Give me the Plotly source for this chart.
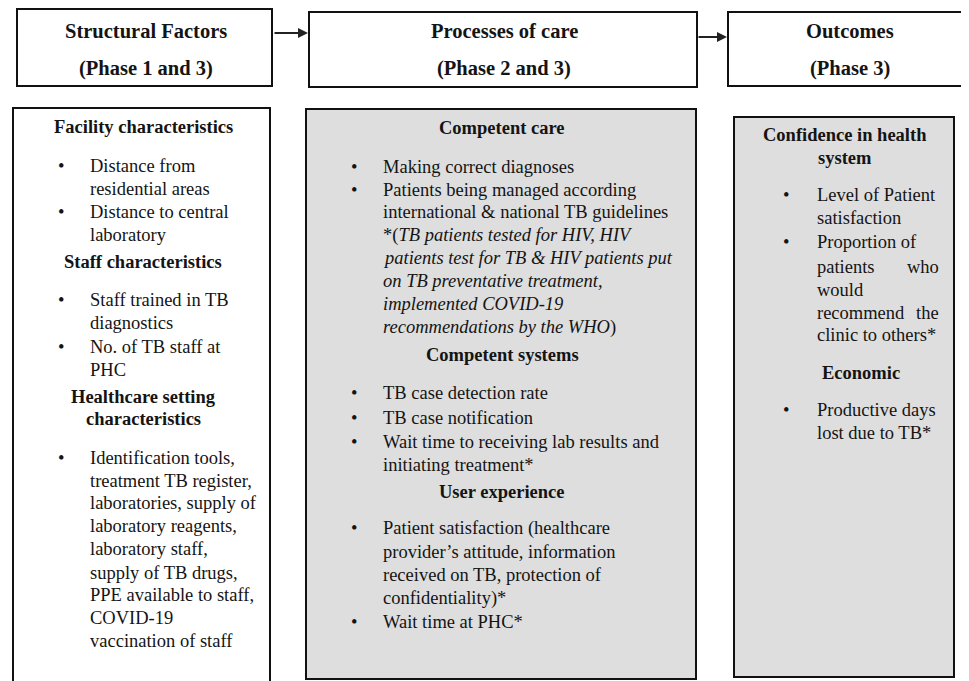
import plotly.graph_objects as go

# ---------------- content ----------------
stage_titles = ["Structural Factors", "Processes of care", "Outcomes"]
stage_phases = ["(Phase 1 and 3)", "(Phase 2 and 3)", "(Phase 3)"]

structural_kinds = ["head", "bullet", "cont", "bullet", "cont",
                    "head", "bullet", "cont", "bullet", "cont",
                    "head", "head", "bullet", "cont", "cont", "cont", "cont", "cont", "cont", "cont", "cont"]
structural_texts = ["Facility characteristics", "Distance from", "residential areas", "Distance to central", "laboratory",
                    "Staff characteristics", "Staff trained in TB", "diagnostics", "No. of TB staff at", "PHC",
                    "Healthcare setting", "characteristics", "Identification tools,", "treatment TB register,",
                    "laboratories, supply of", "laboratory reagents,", "laboratory staff,", "supply of TB drugs,",
                    "PPE available to staff,", "COVID-19", "vaccination of staff"]

process_kinds = ["head", "bullet", "bullet", "cont", "cont", "cont", "cont", "cont", "cont",
                 "head", "bullet", "bullet", "bullet", "cont",
                 "head", "bullet", "cont", "cont", "cont", "bullet"]
process_texts = ["Competent care", "Making correct diagnoses", "Patients being managed according",
                 "international &amp; national TB guidelines",
                 "*(<i>TB patients tested for HIV, HIV</i>",
                 "<i>patients test for TB &amp; HIV patients put</i>",
                 "<i>on TB preventative treatment,</i>",
                 "<i>implemented COVID-19</i>",
                 "<i>recommendations by the WHO</i>)",
                 "Competent systems", "TB case detection rate", "TB case notification",
                 "Wait time to receiving lab results and", "initiating treatment*",
                 "User experience", "Patient satisfaction (healthcare", "provider’s attitude, information",
                 "received on TB, protection of", "confidentiality)*", "Wait time at PHC*"]

outcome_kinds = ["head", "head", "bullet", "cont", "bullet", "just", "cont", "just", "cont",
                 "head", "bullet", "cont"]
outcome_texts = ["Confidence in health", "system", "Level of Patient", "satisfaction", "Proportion of",
                 "patients who", "would", "recommend the", "clinic to others*",
                 "Economic", "Productive days", "lost due to TB*"]

# ---------------- layout geometry (page pixels) ----------------
W, H = 969, 681
PAD = 8  # default page body margin: figure starts 8px into the page
top_boxes = [(17, 9, 272, 86), (309, 12, 697, 87), (728, 12, 966, 86)]
title_y, phase_y = 31, 68
title_cx = [146, 504, 850]
arrows = [(273, 308, 33), (697, 727, 37)]

body_boxes = [(13, 108, 270, 690), (306, 109, 696, 679), (734, 117, 954, 677)]
body_fill = ["white", "#dedede", "#dedede"]

structural_y = [127, 166, 189, 212, 235, 262, 300, 323, 347, 370, 397, 419,
                458, 481, 503, 526, 549, 573, 595, 618, 641]
process_y = [128, 167, 190, 212, 235, 258, 281, 304, 327, 355, 393, 418, 442, 465,
             492, 528, 552, 575, 598, 622]
outcome_y = [135, 158, 195, 218, 242, 267, 290, 313, 335, 373, 410, 433]

col_geom = [  # bullet x, text x, right x, header centre x
    dict(bx=61, tx=88, rx=262, cx=143),
    dict(bx=354, tx=381, rx=690, cx=502),
    dict(bx=786, tx=815, rx=941, cx=845),
]
head_cx_override = {(2, "Economic"): 861}

FONT = "Liberation Serif, Times New Roman, serif"
BODY = 18.5
HEAD = 18.5
TITLE = 20.5
INK = "#141414"

fig = go.Figure()
fig.add_trace(go.Scatter(x=[PAD, W], y=[PAD, H], mode="markers", marker=dict(opacity=0),
                         hoverinfo="skip", showlegend=False))

shapes = []
ann = []

for (x0, y0, x1, y1), t, p, cx in zip(top_boxes, stage_titles, stage_phases, title_cx):
    shapes.append(dict(type="rect", x0=x0, y0=y0, x1=x1, y1=y1, xref="x", yref="y",
                       line=dict(color="#111", width=2), fillcolor="white", layer="below"))
    ann.append(dict(x=cx, y=title_y, text=f"<b>{t}</b>", showarrow=False, xanchor="center", yanchor="middle",
                    font=dict(family=FONT, size=TITLE, color=INK)))
    ann.append(dict(x=cx, y=phase_y, text=f"<b>{p}</b>", showarrow=False, xanchor="center", yanchor="middle",
                    font=dict(family=FONT, size=TITLE, color=INK)))

for x0, x1, y in arrows:
    ann.append(dict(x=x1, y=y, ax=x0, ay=y, xref="x", yref="y", axref="x", ayref="y",
                    text="", showarrow=True, arrowhead=2, arrowsize=1, arrowwidth=2, arrowcolor="#222"))

for (x0, y0, x1, y1), fc in zip(body_boxes, body_fill):
    shapes.append(dict(type="rect", x0=x0, y0=y0, x1=x1, y1=y1, xref="x", yref="y",
                       line=dict(color="#111", width=2), fillcolor=fc, layer="below"))

columns = [(structural_kinds, structural_texts, structural_y),
           (process_kinds, process_texts, process_y),
           (outcome_kinds, outcome_texts, outcome_y)]

for ci, (kinds, texts, ys) in enumerate(columns):
    g = col_geom[ci]
    for k, t, y in zip(kinds, texts, ys):
        f = dict(family=FONT, size=BODY, color=INK)
        if k == "head":
            cx = head_cx_override.get((ci, t), g["cx"])
            ann.append(dict(x=cx, y=y, text=f"<b>{t}</b>", showarrow=False, xanchor="center",
                            yanchor="middle", font=dict(family=FONT, size=HEAD, color=INK)))
            continue
        if k == "bullet":
            ann.append(dict(x=g["bx"], y=y, text="•", showarrow=False, xanchor="center",
                            yanchor="middle", font=f))
        if k == "just":
            words = t.split(" ")
            ann.append(dict(x=g["tx"], y=y, text=words[0], showarrow=False, xanchor="left",
                            yanchor="middle", font=f))
            ann.append(dict(x=g["rx"], y=y, text=words[-1], showarrow=False, xanchor="right",
                            yanchor="middle", font=f))
        else:
            ann.append(dict(x=g["tx"], y=y, text=t, showarrow=False, xanchor="left",
                            yanchor="middle", font=f))

fig.update_layout(
    width=W - PAD, height=H - PAD, margin=dict(l=0, r=0, t=0, b=0),
    paper_bgcolor="white", plot_bgcolor="white",
    xaxis=dict(range=[PAD, W], visible=False, fixedrange=True),
    yaxis=dict(range=[H, PAD], visible=False, fixedrange=True),
    shapes=shapes, annotations=ann, showlegend=False,
)
fig.write_html("out.html")
